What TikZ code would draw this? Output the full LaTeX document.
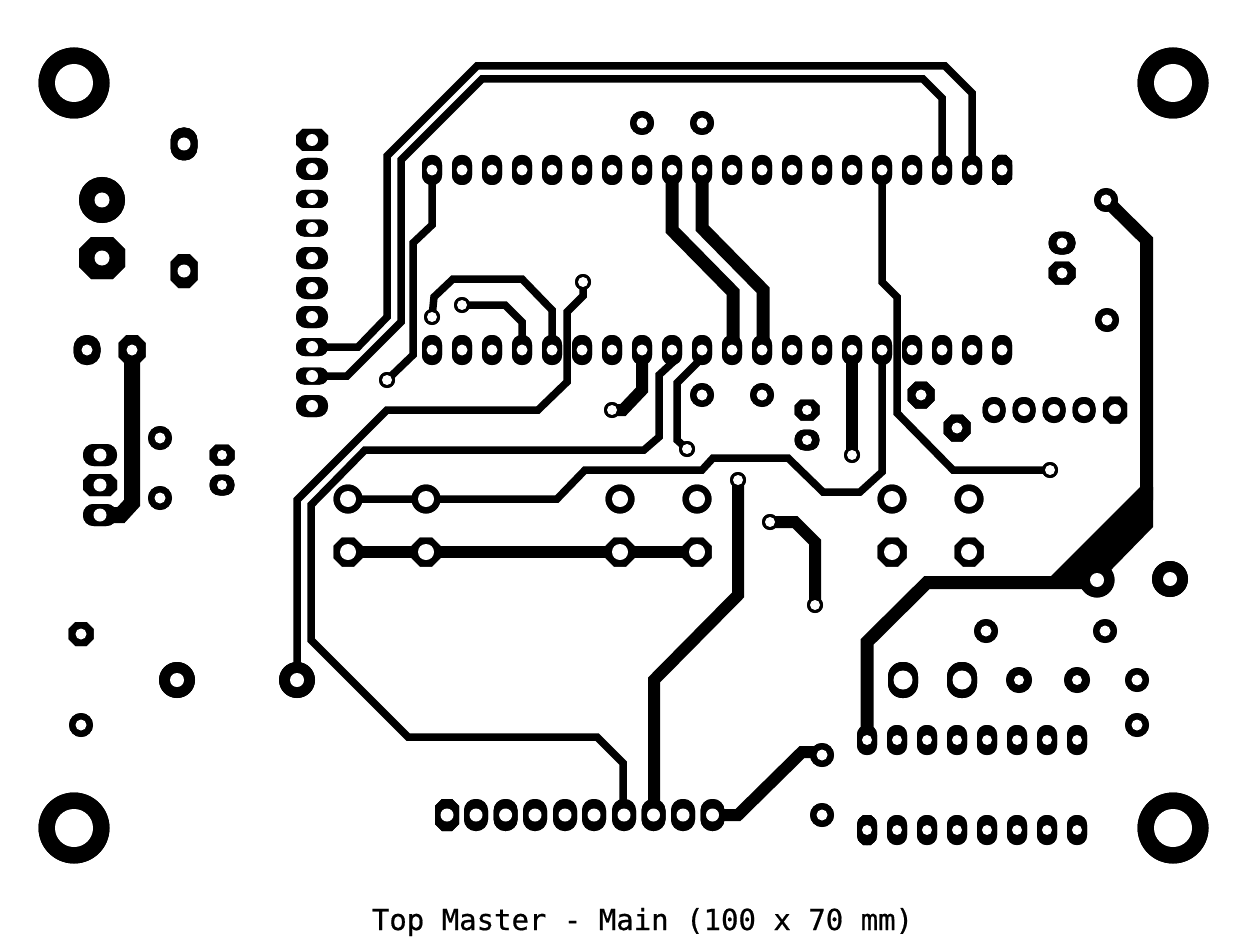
\documentclass[tikz,border=0pt]{standalone}
\usepackage{fontspec}
\newfontfamily\platefont[FakeBold=0.6]{DejaVu Sans Mono}
\newif\ifdrawholes
\newcommand{\holes}[1]{\ifdrawholes #1\fi}
% ring pad: x,y,R,r
\newcommand{\ringpad}[4]{\fill[black] (#1,#2) circle[radius=#3];\holes{\fill[white] (#1,#2) circle[radius=#4];}}
% oval pad: x,y,w,h,r
\newcommand{\ovalpad}[5]{\pgfmathsetmacro{\rc}{min(#3,#4)*0.48}\pgfmathsetmacro{\xa}{#1-#3/2}\pgfmathsetmacro{\xb}{#1+#3/2}\pgfmathsetmacro{\ya}{#2-#4/2}\pgfmathsetmacro{\yb}{#2+#4/2}\fill[black,rounded corners=\rc pt] (\xa,\ya) rectangle (\xb,\yb);\holes{\fill[white] (#1,#2) circle[radius=#5];}}
% octagon pad: x,y,w,h,r
\newcommand{\octpad}[5]{\pgfmathsetmacro{\rc}{min(#3,#4)*0.29}\pgfmathsetmacro{\xa}{#1-#3/2}\pgfmathsetmacro{\xb}{#1+#3/2}\pgfmathsetmacro{\ya}{#2-#4/2}\pgfmathsetmacro{\yb}{#2+#4/2}\fill[black] (\xa+\rc,\ya) -- (\xb-\rc,\ya) -- (\xb,\ya+\rc) -- (\xb,\yb-\rc) -- (\xb-\rc,\yb) -- (\xa+\rc,\yb) -- (\xa,\yb-\rc) -- (\xa,\ya+\rc) -- cycle;\holes{\fill[white] (#1,#2) circle[radius=#5];}}
\newcommand{\allpads}{%
 \foreach \px/\py in {74/83,1173/83,74/828,1173/828}{\ringpad{\px}{\py}{35.5}{19}}
 \octpad{312}{140}{32}{22}{6}
 \ovalpad{312}{169}{32}{22}{6}
 \ovalpad{312}{199}{32}{18}{6}
 \ovalpad{312}{228}{32}{17}{6}
 \ovalpad{312}{258}{32}{22}{6}
 \ovalpad{312}{288}{32}{22}{6}
 \ovalpad{312}{317}{32}{22}{6}
 \ovalpad{312}{347}{32}{18}{6}
 \ovalpad{312}{376}{32}{17}{6}
 \ovalpad{312}{406}{32}{22}{6}
 \ovalpad{184}{144}{27}{33}{6.5}
 \octpad{184}{271}{27}{34}{6.5}
 \ringpad{102}{200}{23}{7.5}
 \octpad{102}{258}{46}{42}{7.5}
 \ovalpad{87}{350}{27}{30}{5.5}
 \octpad{132}{350}{27}{30}{5.5}
 \ringpad{160}{438}{12}{5.5}
 \ringpad{160}{498}{12}{5.5}
 \ovalpad{100}{455}{34}{22}{6.5}
 \octpad{100}{485}{34}{22}{6.5}
 \ovalpad{100}{515}{34}{22}{6.5}
 \octpad{222}{455}{25}{21}{5}
 \ovalpad{222}{485}{25}{21}{5}
 \octpad{81}{634}{25}{24}{5.5}
 \ringpad{81}{725}{12}{5.5}
 \ringpad{177}{680}{18}{7}
 \ringpad{297}{680}{18}{7}
 \foreach \k in {0,...,19}{\pgfmathsetmacro{\px}{432+30*\k}
   \ovalpad{\px}{170}{20}{30}{5.5}
   \ovalpad{\px}{350}{20}{30}{5.5}}
 \octpad{1002}{170}{20}{30}{5.5}
 \ringpad{642}{123}{12}{5.5}
 \ringpad{702}{123}{12}{5.5}
 \foreach \px in {348,426,620,697,892,969}{\ringpad{\px}{499}{14.5}{8}\octpad{\px}{552}{29}{29}{8}}
 \ringpad{702}{395}{12}{5.5}
 \ringpad{762}{395}{12}{5.5}
 \octpad{807}{410}{25}{21}{5}
 \ovalpad{807}{440}{25}{21}{5}
 \foreach \px/\py in {387/380,432/317,462/305,583/282,612/410,687/449,738/480,770/522,815/605,852/455,1050/470}{\ringpad{\px}{\py}{8}{5}}
 \ringpad{1106}{200}{12}{5.5}
 \ovalpad{1062}{243}{27}{23}{5.5}
 \octpad{1062}{273}{27}{23}{5.5}
 \ringpad{1107}{320}{12}{5.5}
 \octpad{921}{395}{27}{27}{5.5}
 \octpad{957}{428}{27}{27}{5.5}
 \foreach \px in {994,1024,1054,1084}{\ovalpad{\px}{410}{23}{26}{6}}
 \octpad{1115}{410}{24}{27}{6}
 \ringpad{1097}{580}{17.5}{7}
 \ringpad{1170}{579}{18}{7}
 \ringpad{986}{631}{12}{5.5}
 \ringpad{1105}{631}{12}{5.5}
 \ovalpad{903}{680}{30}{36}{9.5}
 \ovalpad{962}{680}{30}{36}{9.5}
 \ringpad{1019}{680}{13}{5}
 \ringpad{1077}{680}{13}{5}
 \ringpad{1137}{680}{12}{5.5}
 \ringpad{1137}{725}{12}{5.5}
 \foreach \k in {0,...,7}{\pgfmathsetmacro{\px}{867+30*\k}
   \ovalpad{\px}{740}{20}{30}{5}
   \ovalpad{\px}{830}{20}{30}{5}}
 \octpad{867}{830}{18}{30}{5}
 \ringpad{822}{755}{12}{5.5}
 \ringpad{822}{815}{12}{5.5}
 \foreach \px in {476,505.6,535,565,594,624,653.5,683,712.5}{\ovalpad{\px}{815}{24}{32}{6.5}}
 \octpad{447}{815}{24}{32}{6.5}
}
\tikzset{
 thin track/.style={draw=black,line width=7.5pt,line join=miter,miter limit=3},
 mid track/.style={draw=black,line width=12pt,line join=miter,miter limit=3},
 wide track/.style={draw=black,line width=13pt,line join=miter,miter limit=3},
}
\begin{document}
\begin{tikzpicture}[x=1pt,y=-1pt]
\useasboundingbox (0,0) rectangle (1255,952);
\fill[white] (0,0) rectangle (1255,952);
\draw[thin track] (312,347) -- (358,347) -- (387,317) -- (387,156) -- (477,66) -- (945,66) -- (972,93) -- (972,170);
\draw[thin track] (312,376) -- (347,376) -- (401,322) -- (401,160) -- (482,79) -- (923,79) -- (942,98) -- (942,170);
\draw[thin track] (432,170) -- (432,225) -- (413,243) -- (413,355) -- (387,380);
\draw[thin track] (432,317) -- (434,297) -- (453,279) -- (522,279) -- (552,310) -- (552,350);
\draw[thin track] (462,305) -- (505,305) -- (522,322) -- (522,350);
\draw[thin track] (583,282) -- (583,296) -- (567,312) -- (567,382) -- (538,410) -- (387,410) -- (297,500) -- (297,680);
\draw[thin track] (672,350) -- (672,363) -- (659,375) -- (659,437) -- (644,450) -- (365,450) -- (311,505) -- (311,640) -- (408,737) -- (597,737) -- (623,763) -- (623,815);
\draw[thin track] (702,350) -- (702,358) -- (677,383) -- (677,440) -- (687,449);
\draw[mid track] (642,350) -- (642,390) -- (623,410) -- (612,410);
\draw[thin track] (348,499) -- (557,499) -- (585,470) -- (702,470) -- (713,458) -- (788,458) -- (823,492) -- (860,492) -- (882,472) -- (882,350);
\draw[mid track] (348,552) -- (697,552);
\draw[mid track] (738,480) -- (738,595) -- (654,680) -- (654,815);
\draw[mid track] (770,522) -- (795,522) -- (815,542) -- (815,605);
\draw[wide track] (672,170) -- (672,230) -- (733,292) -- (733,350);
\draw[wide track] (702,170) -- (702,228) -- (763,290) -- (763,350);
\draw[thin track] (882,170) -- (882,282) -- (897,297) -- (897,413) -- (953,470) -- (1050,470);
\draw[mid track] (852,350) -- (852,455);
\draw[wide track] (1106,200) -- (1146.5,240) -- (1146.5,500);
\draw[wide track] (867,745) -- (867,642) -- (927,582.5) -- (1097,582.5);
\fill[black] (1140,487) -- (1051,576) -- (1097,585) -- (1112,569) -- (1153,527) -- (1153,487) -- cycle;
\draw[draw=black,line width=16pt,line join=miter,miter limit=3] (132,350) -- (132,503) -- (121,515) -- (100,515);
\draw[mid track] (712.5,815) -- (738,815) -- (802,752) -- (812,752) -- (822,755);
\drawholesfalse \allpads
\drawholestrue \allpads
\node[font=\platefont\fontsize{29}{29}\selectfont,anchor=base,inner sep=0pt] (title) at (642.5,930) {Top Master - Main (100 x 70 mm)};
\end{tikzpicture}
\end{document}
